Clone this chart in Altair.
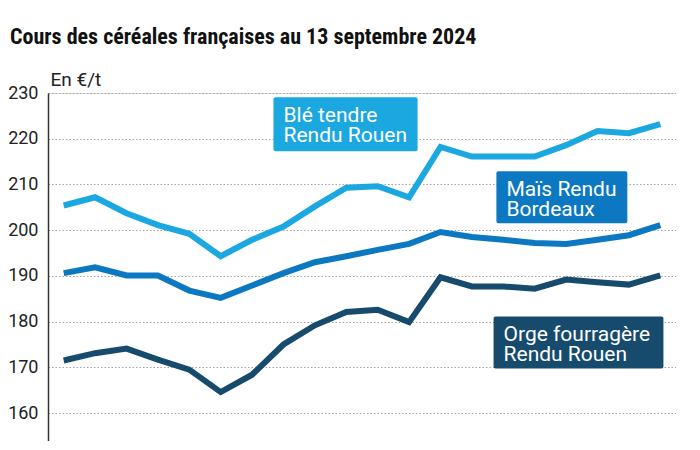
import altair as alt
import pandas as pd

# ---- data ----
weeks = list(range(20))
ble = [205.4, 207.2, 203.7, 201.1, 199.2, 194.3, 197.9, 200.8, 205.2, 209.3,
       209.6, 207.2, 218.2, 216.1, 216.1, 216.1, 218.6, 221.7, 221.2, 223.2]
mais = [190.6, 191.9, 190.1, 190.1, 186.8, 185.2, 187.9, 190.6, 193.0, 194.3,
        195.7, 197.0, 199.6, 198.5, 197.9, 197.2, 197.0, 197.9, 198.9, 201.1]
orge = [171.5, 173.1, 174.1, 171.7, 169.5, 164.6, 168.4, 175.0, 179.2, 182.1,
        182.6, 179.9, 189.7, 187.7, 187.7, 187.2, 189.2, 188.6, 188.1, 190.1]

series_names = ["Blé tendre Rendu Rouen", "Maïs Rendu Bordeaux", "Orge fourragère Rendu Rouen"]
series_colors = ["#1ba7e0", "#0b78c1", "#174b6d"]
y_ticks = [160, 170, 180, 190, 200, 210, 220, 230]

label_lines = [["Blé tendre", "Rendu Rouen"], ["Maïs Rendu", "Bordeaux"], ["Orge fourragère", "Rendu Rouen"]]
label_x0 = [6.68, 13.78, 13.69]
label_x1 = [11.27, 17.95, 19.10]
label_ytop = [229.06, 212.87, 181.14]
label_ybot = [217.24, 201.49, 169.76]

title_text = "Cours des céréales françaises au 13 septembre 2024"
unit_text = "En €/t"

# ---- tables ----
rows = []
for name, vals in zip(series_names, [ble, mais, orge]):
    for w, v in zip(weeks, vals):
        rows.append({"semaine": w, "prix": v, "serie": name})
lines_df = pd.DataFrame(rows)

labels_df = pd.DataFrame({
    "serie": series_names,
    "texte": label_lines,
    "x0": label_x0,
    "x1": label_x1,
    "ytop": label_ytop,
    "ybot": label_ybot,
})

xscale = alt.Scale(domain=[-0.5, 19.5], nice=False, zero=False)
yscale = alt.Scale(domain=[153.9, 230], nice=False, zero=False)
cscale = alt.Scale(domain=series_names, range=series_colors)

yaxis = alt.Axis(
    values=y_ticks, grid=True, gridDash=[1.5, 2], gridColor="#a5a5a5", gridWidth=1,
    domain=True, domainColor="#333333", domainWidth=1.5, ticks=False,
    labelFontSize=18, labelColor="#222222", labelFont="Roboto", labelPadding=10,
    title=unit_text, titleAngle=0, titleX=2, titleY=-8, titleAlign="left",
    titleBaseline="alphabetic", titleFontWeight="normal", titleFontSize=19,
    titleColor="#222222", titleFont="Roboto",
)

lines = alt.Chart(lines_df).mark_line(strokeWidth=6).encode(
    x=alt.X("semaine:Q", scale=xscale, axis=None),
    y=alt.Y("prix:Q", scale=yscale, axis=yaxis),
    color=alt.Color("serie:N", scale=cscale, legend=None),
)

boxes = alt.Chart(labels_df).mark_rect(cornerRadius=2).encode(
    x=alt.X("x0:Q", scale=xscale, axis=None),
    x2="x1:Q",
    y=alt.Y("ytop:Q", scale=yscale),
    y2="ybot:Q",
    color=alt.Color("serie:N", scale=cscale, legend=None),
)

texts = alt.Chart(labels_df).mark_text(
    align="left", baseline="alphabetic", dx=10, dy=25, fontSize=21, lineHeight=20,
    color="white", font="Roboto",
).encode(
    x=alt.X("x0:Q", scale=xscale, axis=None),
    y=alt.Y("ytop:Q", scale=yscale),
    text="texte",
)

chart = alt.layer(lines, boxes, texts).properties(
    width=628,
    height=348,
    autosize=alt.AutoSizeParams(type="none"),
    padding={"left": 40, "top": 85, "right": 0, "bottom": 0},
    title=alt.TitleParams(
        title_text, anchor="start", frame="group", dx=-38, offset=21,
        fontSize=22, fontWeight="bold", color="#111111",
        font="Roboto Condensed, Liberation Sans Narrow, Roboto",
    ),
).configure_view(stroke=None).configure(background="white")

chart.save("out.html", embed_options={"renderer": "svg", "actions": False})
